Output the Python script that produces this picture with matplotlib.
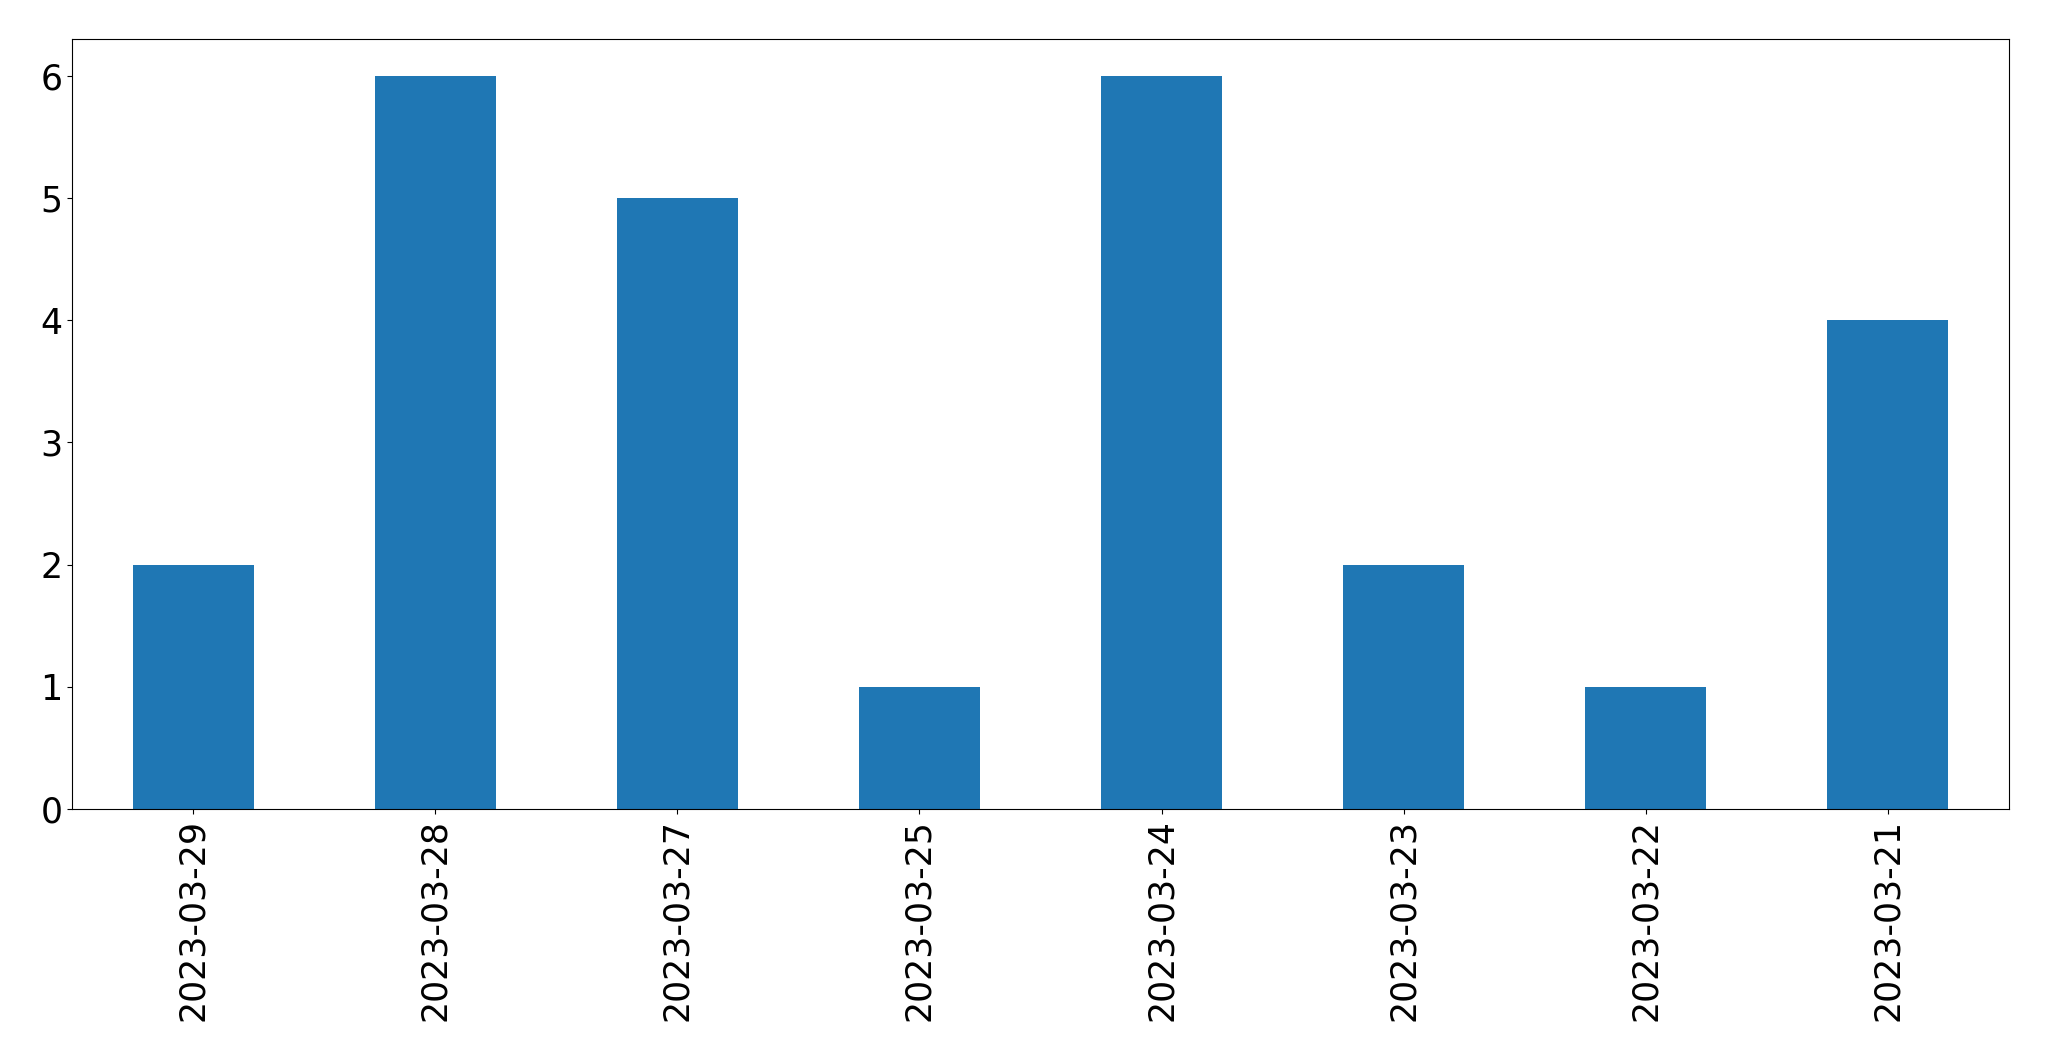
import matplotlib
matplotlib.use("Agg")
import matplotlib.pyplot as plt

dates = ["2023-03-29", "2023-03-28", "2023-03-27", "2023-03-25",
         "2023-03-24", "2023-03-23", "2023-03-22", "2023-03-21"]
counts = [2, 6, 5, 1, 6, 2, 1, 4]

fig = plt.figure(figsize=(20.49, 10.61), dpi=100)
ax = fig.add_axes([72/2049, 1-809/1061, (2009-72)/2049, (809-39)/1061])
x = list(range(len(dates)))
ax.bar(x, counts, width=0.5, color="#1f77b4")
ax.set_xlim(-0.5, len(dates) - 0.5)
ax.set_xticks(x)
ax.set_xticklabels(dates, rotation=90)
ax.tick_params(labelsize=25)
fig.savefig("out.png", dpi=100)
